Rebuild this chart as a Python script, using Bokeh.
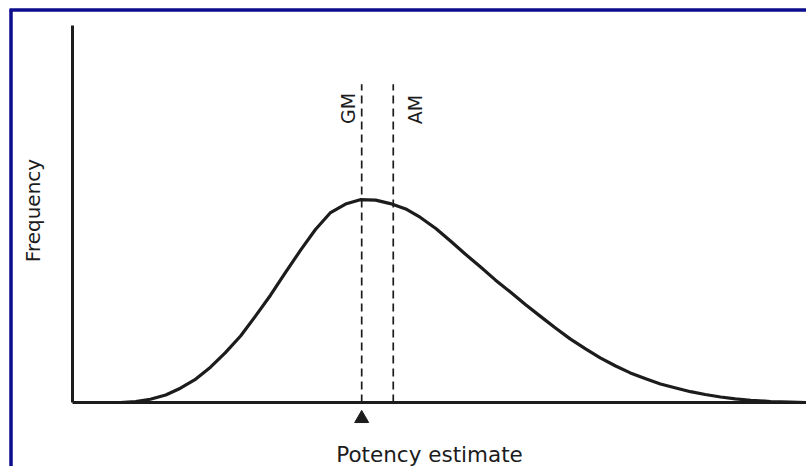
import math

from bokeh.core.properties import value
from bokeh.embed import file_html
from bokeh.models import ColumnDataSource, Range1d
from bokeh.plotting import figure
from bokeh.resources import INLINE

# Skewed (log-normal like) distribution of potency estimates
potency = [0.65, 0.86, 1.06, 1.27, 1.47, 1.68, 1.88, 2.08, 2.29, 2.49, 2.70,
           2.90, 3.11, 3.31, 3.51, 3.72, 3.92, 4.13, 4.33, 4.54, 4.74, 4.95,
           5.15, 5.35, 5.56, 5.76, 5.97, 6.17, 6.38, 6.58, 6.78, 6.99, 7.19,
           7.40, 7.60, 7.81, 8.01, 8.22, 8.42, 8.62, 8.83, 9.03, 9.24, 9.51,
           9.78, 10.0]
frequency = [0.000, 0.004, 0.016, 0.037, 0.070, 0.115, 0.173, 0.243, 0.326,
             0.422, 0.527, 0.637, 0.748, 0.848, 0.929, 0.973, 0.994, 0.992,
             0.975, 0.949, 0.907, 0.853, 0.792, 0.728, 0.664, 0.601, 0.540,
             0.480, 0.421, 0.365, 0.312, 0.263, 0.219, 0.179, 0.145, 0.116,
             0.091, 0.071, 0.053, 0.039, 0.027, 0.018, 0.011, 0.005, 0.002,
             0.000]

# Geometric and arithmetic means
mean_names = ["GM", "AM"]
mean_values = [3.94, 4.37]

x_title = "Potency estimate"
y_title = "Frequency"

W, H = 806, 466
X0_PX, X_SCALE = 72.0, 73.4      # pixel of x = 0, pixels per unit
Y0_PX, Y_SCALE = 402.0, 204.0    # pixel of y = 0, pixels per unit

x_range = Range1d(-X0_PX / X_SCALE, (W - X0_PX) / X_SCALE)
y_range = Range1d(-(H - Y0_PX) / Y_SCALE, Y0_PX / Y_SCALE)


def px_x(px):
    return (px - X0_PX) / X_SCALE


def px_y(py):
    return (Y0_PX - py) / Y_SCALE


INK = "#1c1c1c"
FONT = value("DejaVu Sans")

p = figure(width=W, height=H, x_range=x_range, y_range=y_range,
           output_backend="svg", toolbar_location=None,
           x_axis_location=None, y_axis_location=None,
           min_border=0, outline_line_color=None,
           background_fill_color="white", border_fill_color="white")
p.grid.visible = False

# navy frame along the top and left edges
p.segment(x0=[px_x(9), px_x(10.5)], y0=[px_y(9.5), px_y(9)],
          x1=[px_x(W + 5), px_x(10.5)], y1=[px_y(9.5), px_y(H + 5)],
          line_color="#0c0c8e", line_width=3.5)

# hand-drawn axes
y_top = 1.848
p.segment(x0=[0, 0], y0=[0, 0], x1=[0, max(potency)], y1=[y_top, 0],
          line_color=INK, line_width=3)

# distribution curve
src = ColumnDataSource(dict(x=potency, y=frequency))
p.line("x", "y", source=src, line_color=INK, line_width=3.2,
       line_join="round", line_cap="round")

# dashed markers for the means
dash_top = 1.56
p.segment(x0=mean_values, y0=[0, 0], x1=mean_values, y1=[dash_top, dash_top],
          line_color=INK, line_width=1.7, line_dash="8 5")

# labels for the means, written vertically beside each line
label_x = [mean_values[0] - 13.5 / X_SCALE, mean_values[1] + 21.5 / X_SCALE]
p.text(x=label_x, y=[px_y(108), px_y(109)], text=mean_names,
       angle=math.pi / 2, text_align="center", text_baseline="middle",
       text_font=FONT, text_font_size="19px", text_color=INK)

# pointer under the geometric mean
p.scatter(x=[mean_values[0]], y=[px_y(418)], marker="triangle", size=14,
          fill_color=INK, line_color=INK)

# axis titles
p.text(x=[px_x(429)], y=[px_y(454)], text=[x_title],
       text_align="center", text_baseline="middle",
       text_font=FONT, text_font_size="21.5px", text_color=INK)
p.text(x=[px_x(32)], y=[px_y(210)], text=[y_title], angle=math.pi / 2,
       text_align="center", text_baseline="middle",
       text_font=FONT, text_font_size="20px", text_color=INK)

open("out.html", "w").write(file_html(p, INLINE))
